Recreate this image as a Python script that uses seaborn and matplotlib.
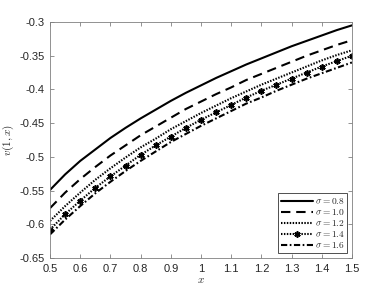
import numpy as np
import pandas as pd
import seaborn as sns
import matplotlib
matplotlib.use("Agg")
import matplotlib.pyplot as plt
from matplotlib.ticker import FuncFormatter, MultipleLocator

# valores (x de 0.5 a 1.5 cada 0.05)
x_vals = [0.5, 0.55, 0.6, 0.65, 0.7, 0.75, 0.8, 0.85, 0.9, 0.95, 1.0,
          1.05, 1.1, 1.15, 1.2, 1.25, 1.3, 1.35, 1.4, 1.45, 1.5]

v_s08 = [-0.549, -0.526, -0.506, -0.489, -0.472, -0.457, -0.443, -0.430, -0.417, -0.405, -0.394,
         -0.383, -0.373, -0.363, -0.354, -0.345, -0.336, -0.328, -0.320, -0.312, -0.305]
v_s10 = [-0.576, -0.553, -0.533, -0.515, -0.498, -0.483, -0.468, -0.455, -0.442, -0.429, -0.418,
         -0.407, -0.397, -0.386, -0.377, -0.368, -0.359, -0.350, -0.342, -0.334, -0.327]
v_s12 = [-0.595, -0.573, -0.553, -0.534, -0.517, -0.501, -0.486, -0.473, -0.459, -0.447, -0.435,
         -0.424, -0.413, -0.403, -0.393, -0.384, -0.375, -0.366, -0.357, -0.349, -0.342]
v_s14 = [-0.608, -0.585, -0.565, -0.546, -0.529, -0.513, -0.497, -0.483, -0.470, -0.457, -0.445,
         -0.434, -0.423, -0.412, -0.402, -0.393, -0.384, -0.375, -0.366, -0.358, -0.350]
v_s16 = [-0.615, -0.593, -0.573, -0.554, -0.537, -0.521, -0.506, -0.492, -0.478, -0.466, -0.454,
         -0.443, -0.432, -0.421, -0.412, -0.402, -0.393, -0.384, -0.376, -0.368, -0.360]

sigmas = ["0.8", "1.0", "1.2", "1.4", "1.6"]
series = [v_s08, v_s10, v_s12, v_s14, v_s16]

sns.set_theme(style="white")
plt.rcParams["mathtext.fontset"] = "cm"
plt.rcParams["font.family"] = ["Liberation Sans", "DejaVu Sans"]

fig = plt.figure(figsize=(3.88, 2.91), dpi=100)
ax = fig.add_axes([0.129, 0.1134, 0.778, 0.811])

estilos = [
    dict(linestyle="-"),
    dict(linestyle=(0, (4.5, 2.8))),
    dict(linestyle=(0, (0.7, 0.7))),
    dict(linestyle=(0, (0.7, 0.7)), marker=(6, 2, 0), markersize=4.5,
         markeredgewidth=1.2, markeredgecolor="black"),
    dict(linestyle=(0, (3, 1.2, 0.8, 1.2))),
]

for sig, vals, est in zip(sigmas, series, estilos):
    df = pd.DataFrame({"x": x_vals, "v": vals})
    sns.lineplot(data=df, x="x", y="v", ax=ax, color="black", linewidth=1.5,
                 label=r"$\sigma = " + sig + "$", **est)

ax.set_xlim(0.5, 1.5)
ax.set_ylim(-0.65, -0.3)
ax.xaxis.set_major_locator(MultipleLocator(0.1))
ax.yaxis.set_major_locator(MultipleLocator(0.05))
fmt = FuncFormatter(lambda v, p: f"{v:.2f}".rstrip("0").rstrip("."))
ax.xaxis.set_major_formatter(fmt)
ax.yaxis.set_major_formatter(fmt)

gris = "#262626"
for s in ax.spines.values():
    s.set_color("#808080")
    s.set_linewidth(0.6)
ax.tick_params(direction="in", length=3, width=0.6, colors="#808080", labelcolor=gris,
               labelsize=8, top=True, right=True, bottom=True, left=True, pad=4)

ax.set_xlabel(r"$x$", fontsize=8, color=gris, labelpad=1)
ax.set_ylabel(r"$v(1,x)$", fontsize=8, color=gris, labelpad=2)

leg = ax.legend(loc="lower right", fontsize=6.8, handlelength=3.4, handletextpad=0.2,
                labelspacing=0.12, borderpad=0.3, borderaxespad=0.5, fancybox=False,
                framealpha=1, edgecolor="#333333", numpoints=1)
leg.get_frame().set_linewidth(0.6)

plt.savefig("out.png", dpi=100)
plt.close()
